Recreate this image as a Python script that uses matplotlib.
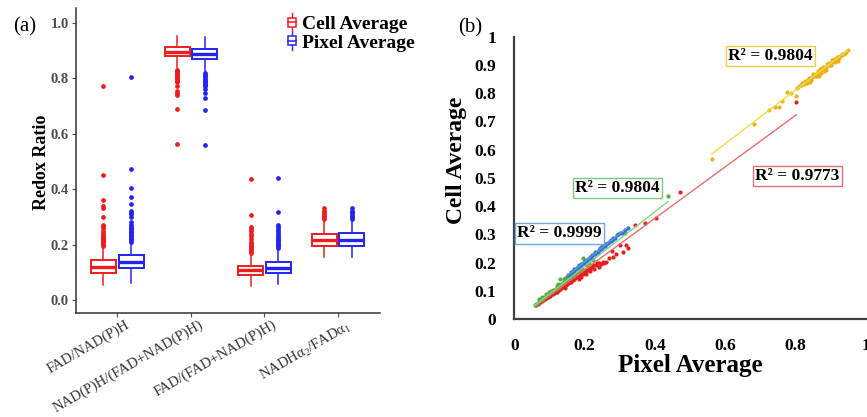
import matplotlib
matplotlib.use('Agg')
import matplotlib.pyplot as plt
import matplotlib.transforms as mtransforms
import numpy as np
from matplotlib.legend_handler import HandlerBase
from matplotlib.lines import Line2D
from matplotlib.patches import Rectangle

plt.rcParams['font.family'] = ['Liberation Serif', 'DejaVu Serif']
plt.rcParams['mathtext.default'] = 'regular'

# ---------------- panel (a): redox ratio box statistics ----------------
ratios = ['FAD/NAD(P)H', 'NAD(P)H/(FAD+NAD(P)H)', 'FAD/(FAD+NAD(P)H)', 'NADHα$_2$/FADα$_1$']

cell_whislo = [0.054, 0.835, 0.050, 0.154]
cell_q1 = [0.098, 0.880, 0.090, 0.196]
cell_med = [0.120, 0.895, 0.108, 0.216]
cell_q3 = [0.144, 0.913, 0.124, 0.237]
cell_whishi = [0.192, 0.952, 0.166, 0.286]
cell_fliers = [
    [0.196, 0.200, 0.204, 0.208, 0.212, 0.216, 0.220, 0.225, 0.230, 0.235, 0.240,
     0.250, 0.260, 0.265, 0.270, 0.300, 0.330, 0.340, 0.360, 0.450, 0.770],
    [0.830, 0.825, 0.820, 0.815, 0.810, 0.805, 0.800, 0.795, 0.790, 0.787, 0.772,
     0.755, 0.745, 0.739, 0.688, 0.564],
    [0.170, 0.175, 0.180, 0.185, 0.190, 0.195, 0.200, 0.205, 0.210, 0.220, 0.230,
     0.237, 0.248, 0.255, 0.262, 0.308, 0.436],
    [0.292, 0.298, 0.304, 0.310, 0.316, 0.322, 0.330],
]

pixel_whislo = [0.062, 0.823, 0.057, 0.154]
pixel_q1 = [0.117, 0.869, 0.098, 0.196]
pixel_med = [0.136, 0.887, 0.117, 0.216]
pixel_q3 = [0.162, 0.905, 0.136, 0.240]
pixel_whishi = [0.204, 0.947, 0.183, 0.286]
pixel_fliers = [
    [0.210, 0.215, 0.220, 0.225, 0.230, 0.235, 0.240, 0.245, 0.250, 0.255, 0.260,
     0.265, 0.270, 0.280, 0.300, 0.310, 0.315, 0.320, 0.345, 0.372, 0.403, 0.474, 0.803],
    [0.818, 0.812, 0.806, 0.800, 0.795, 0.790, 0.785, 0.780, 0.775, 0.770, 0.762,
     0.745, 0.727, 0.685, 0.560],
    [0.188, 0.193, 0.198, 0.203, 0.208, 0.213, 0.218, 0.223, 0.228, 0.233, 0.240,
     0.248, 0.255, 0.262, 0.270, 0.318, 0.440],
    [0.292, 0.298, 0.304, 0.310, 0.316, 0.322, 0.330],
]

series_a = ['Cell Average', 'Pixel Average']
yticks_a = [0.0, 0.2, 0.4, 0.6, 0.8, 1.0]
ytick_labels_a = ['0.0', '0.2', '0.4', '0.6', '0.8', '1.0']

# ---------------- panel (b): cell vs pixel averages ----------------
yellow_pixel = [0.561, 0.682, 0.724, 0.741, 0.753, 0.762, 0.774, 0.788, 0.802, 0.804,
                0.810, 0.815, 0.819, 0.823, 0.827, 0.831, 0.835, 0.839, 0.843, 0.847,
                0.851, 0.855, 0.859, 0.863, 0.867, 0.871, 0.875, 0.879, 0.883, 0.887,
                0.891, 0.895, 0.899, 0.903, 0.907, 0.911, 0.915, 0.919, 0.923, 0.927,
                0.931, 0.935, 0.939, 0.944,
                0.840, 0.850, 0.860, 0.870, 0.880, 0.890, 0.900, 0.910, 0.920,
                0.865, 0.875, 0.885, 0.895,
                0.826, 0.832, 0.838, 0.844, 0.852, 0.858, 0.864, 0.872, 0.878, 0.884,
                0.892, 0.898, 0.904, 0.912, 0.918, 0.924, 0.932, 0.938, 0.948]
yellow_cell = [0.566, 0.691, 0.740, 0.750, 0.750, 0.773, 0.805, 0.800, 0.790, 0.817,
               0.826, 0.828, 0.835, 0.834, 0.840, 0.842, 0.847, 0.849, 0.853, 0.857,
               0.860, 0.864, 0.868, 0.872, 0.875, 0.879, 0.883, 0.887, 0.890, 0.894,
               0.898, 0.901, 0.905, 0.909, 0.913, 0.916, 0.920, 0.924, 0.928, 0.931,
               0.935, 0.939, 0.942, 0.947,
               0.840, 0.868, 0.860, 0.885, 0.878, 0.902, 0.898, 0.922, 0.915,
               0.862, 0.890, 0.882, 0.908,
               0.842, 0.835, 0.853, 0.847, 0.866, 0.860, 0.878, 0.873, 0.891, 0.885,
               0.904, 0.898, 0.916, 0.911, 0.929, 0.923, 0.940, 0.938, 0.952]

red_pixel = [0.062, 0.066, 0.070, 0.074, 0.078, 0.082, 0.086, 0.090, 0.094, 0.098,
             0.102, 0.106, 0.110, 0.114, 0.118, 0.122, 0.126, 0.130, 0.134, 0.138,
             0.142, 0.146, 0.150, 0.154, 0.158, 0.162, 0.166, 0.170, 0.174, 0.178,
             0.182, 0.186, 0.190, 0.194, 0.198, 0.202, 0.206, 0.210, 0.215, 0.220,
             0.226, 0.232, 0.240, 0.247, 0.253, 0.262, 0.277, 0.300, 0.310, 0.319,
             0.322, 0.343, 0.371, 0.403, 0.471, 0.802,
             0.100, 0.120, 0.140, 0.160, 0.180, 0.200, 0.190, 0.170, 0.150, 0.130,
             0.160, 0.175, 0.185, 0.205, 0.215, 0.225, 0.235, 0.240, 0.255, 0.270,
             0.280, 0.290, 0.120, 0.135, 0.145, 0.095, 0.085]
red_cell = [0.050, 0.053, 0.056, 0.060, 0.063, 0.066, 0.070, 0.073, 0.077, 0.080,
            0.083, 0.087, 0.090, 0.093, 0.097, 0.100, 0.104, 0.107, 0.110, 0.114,
            0.117, 0.120, 0.124, 0.127, 0.131, 0.134, 0.137, 0.141, 0.144, 0.148,
            0.151, 0.154, 0.158, 0.161, 0.165, 0.168, 0.172, 0.175, 0.180, 0.184,
            0.178, 0.193, 0.200, 0.196, 0.203, 0.203, 0.242, 0.262, 0.238, 0.262,
            0.250, 0.333, 0.339, 0.357, 0.449, 0.770,
            0.090, 0.108, 0.122, 0.140, 0.158, 0.175, 0.150, 0.148, 0.135, 0.112,
            0.130, 0.160, 0.140, 0.160, 0.170, 0.190, 0.200, 0.185, 0.200, 0.215,
            0.220, 0.230, 0.095, 0.120, 0.110, 0.078, 0.075]

green_pixel = [0.058, 0.062, 0.066, 0.070, 0.074, 0.078, 0.082, 0.086, 0.090, 0.094,
               0.098, 0.102, 0.106, 0.110, 0.114, 0.118, 0.122, 0.126, 0.130, 0.134,
               0.138, 0.142, 0.146, 0.150, 0.154, 0.158, 0.162, 0.166, 0.170, 0.175,
               0.180, 0.186, 0.192, 0.196, 0.203, 0.212, 0.225, 0.314, 0.437,
               0.080, 0.100, 0.120, 0.140, 0.130, 0.160, 0.110,
               0.090, 0.105, 0.125, 0.145, 0.165, 0.180, 0.070, 0.150]
green_cell = [0.050, 0.054, 0.058, 0.062, 0.066, 0.069, 0.073, 0.077, 0.081, 0.085,
              0.088, 0.092, 0.096, 0.100, 0.104, 0.107, 0.111, 0.115, 0.119, 0.123,
              0.126, 0.130, 0.134, 0.138, 0.142, 0.145, 0.149, 0.153, 0.157, 0.162,
              0.167, 0.172, 0.178, 0.215, 0.190, 0.198, 0.210, 0.303, 0.434,
              0.078, 0.097, 0.118, 0.140, 0.141, 0.152, 0.103,
              0.090, 0.100, 0.125, 0.145, 0.160, 0.180, 0.070, 0.150]

blue_pixel = [0.153, 0.158, 0.161, 0.166, 0.169, 0.174, 0.177, 0.181, 0.186, 0.189,
              0.194, 0.197, 0.201, 0.206, 0.209, 0.214, 0.217, 0.221, 0.226, 0.229,
              0.234, 0.237, 0.241, 0.246, 0.249, 0.254, 0.257, 0.261, 0.266, 0.269,
              0.274, 0.277, 0.281, 0.285, 0.291, 0.300, 0.314, 0.324,
              0.170, 0.185, 0.200, 0.215, 0.230, 0.245, 0.260, 0.275,
              0.160, 0.190, 0.220, 0.250, 0.280, 0.295, 0.305]
blue_cell = [0.155, 0.161, 0.163, 0.169, 0.171, 0.177, 0.179, 0.184, 0.189, 0.191,
             0.197, 0.199, 0.204, 0.209, 0.211, 0.217, 0.219, 0.224, 0.229, 0.231,
             0.237, 0.239, 0.244, 0.249, 0.251, 0.257, 0.259, 0.264, 0.269, 0.271,
             0.277, 0.279, 0.284, 0.287, 0.298, 0.304, 0.315, 0.321,
             0.176, 0.191, 0.206, 0.221, 0.236, 0.251, 0.266, 0.281,
             0.165, 0.196, 0.227, 0.257, 0.286, 0.302, 0.306]

# linear trend lines (slope, intercept) and their R² labels
fit_slope = [0.950, 0.912, 0.971, 1.000]
fit_intercept = [0.051, -0.008, -0.008, 0.003]
r2_text = ['R² = 0.9804', 'R² = 0.9773', 'R² = 0.9804', 'R² = 0.9999']
r2_pos = [(0.7285, 0.932), (0.8047, 0.508), (0.2934, 0.463), (0.129, 0.303)]

xticks_b = [0, 0.2, 0.4, 0.6, 0.8, 1.0]
xtick_labels_b = ['0', '0.2', '0.4', '0.6', '0.8', '1']
yticks_b = [0, 0.1, 0.2, 0.3, 0.4, 0.5, 0.6, 0.7, 0.8, 0.9, 1.0]
ytick_labels_b = ['0', '0.1', '0.2', '0.3', '0.4', '0.5', '0.6', '0.7', '0.8', '0.9', '1']

# ---------------- styling ----------------
RED = '#EE1C1C'
BLUE = '#2424F2'
pt_colors = ['#E8B21A', '#E51E1E', '#4FAE3C', '#3C72CF']
line_colors = ['#F2DA4A', '#E86E6E', '#86D486', '#5B9BD5']
box_colors = ['#F0D040', '#E07070', '#7CC87C', '#6FA8DC']

fig = plt.figure(figsize=(8.67, 4.17), dpi=100)

# ======== panel (a) ========
ax1 = fig.add_axes([76 / 867, 1 - 313 / 417, 304 / 867, 305 / 417])
pos = np.arange(1, len(ratios) + 1)
offset = 0.1875
bw = 0.34


def make_stats(lo, q1, med, q3, hi, fl):
    return [dict(whislo=lo[i], q1=q1[i], med=med[i], q3=q3[i], whishi=hi[i],
                 fliers=fl[i]) for i in range(len(lo))]


for stats, shift, col in [
    (make_stats(cell_whislo, cell_q1, cell_med, cell_q3, cell_whishi, cell_fliers), -offset, RED),
    (make_stats(pixel_whislo, pixel_q1, pixel_med, pixel_q3, pixel_whishi, pixel_fliers), offset, BLUE),
]:
    ax1.bxp(stats, positions=pos + shift, widths=bw, patch_artist=True,
            showcaps=False, manage_ticks=False,
            boxprops=dict(facecolor='white', edgecolor=col, linewidth=1.4),
            medianprops=dict(color=col, linewidth=2.4),
            whiskerprops=dict(color=col, linewidth=1.1),
            flierprops=dict(marker='o', markersize=2.4, markerfacecolor=col,
                            markeredgecolor=col, linestyle='none'))

ax1.set_xlim(0.44, 4.57)
ax1.set_ylim(-0.047, 1.053)
ax1.set_yticks(yticks_a)
ax1.set_yticklabels(ytick_labels_a, fontsize=10.5, fontweight='bold', color='#4D4D4D')
ax1.set_xticks(pos)
ax1.set_xticklabels([])
ax1.tick_params(axis='both', length=3, width=0.8, color='#4D4D4D', pad=2)
for s in ['top', 'right']:
    ax1.spines[s].set_visible(False)
for s in ['left', 'bottom']:
    ax1.spines[s].set_color('#333333')
    ax1.spines[s].set_linewidth(1.1)

lab_trans = mtransforms.blended_transform_factory(ax1.transData, ax1.transAxes) + \
    mtransforms.ScaledTranslation(8 / 100, -5 / 100, fig.dpi_scale_trans)
for p, lab in zip(pos, ratios):
    ax1.text(p, 0, lab, transform=lab_trans, rotation=30, ha='right', va='top',
             rotation_mode='anchor', fontsize=10.5, color='#333333')

ax1.text(-0.113, 0.493, 'Redox Ratio', transform=ax1.transAxes, rotation=90,
         ha='center', va='center', fontsize=13, fontweight='bold')
fig.text(25 / 867, 1 - 27 / 417, '(a)', ha='center', va='center', fontsize=15)


class BoxGlyph(HandlerBase):
    def create_artists(self, legend, orig_handle, xdescent, ydescent, width, height,
                       fontsize, trans):
        col = orig_handle.get_color()
        cx = width / 2 - xdescent
        cy = height / 2 - ydescent
        w = width * 0.9
        h = height * 0.55
        whisk = Line2D([cx, cx], [cy - height * 0.55, cy + height * 0.55], color=col,
                       lw=1.0, transform=trans)
        rect = Rectangle((cx - w / 2, cy - h / 2), w, h, facecolor='white', edgecolor=col,
                         lw=1.1, transform=trans)
        med = Line2D([cx - w / 2, cx + w / 2], [cy, cy], color=col, lw=1.1, transform=trans)
        return [whisk, rect, med]


handles = [Line2D([], [], color=RED), Line2D([], [], color=BLUE)]
ax1.legend(handles, series_a, handler_map={Line2D: BoxGlyph()}, loc='upper left',
           bbox_to_anchor=(288 / 867, 1 - 14 / 417), bbox_transform=fig.transFigure,
           frameon=False, borderpad=0, handlelength=0.42, handleheight=0.9,
           handletextpad=0.3, labelspacing=0.0, borderaxespad=0,
           prop=dict(size=14, weight='bold'))

# ======== panel (b) ========
ax2 = fig.add_axes([514.3 / 867, 1 - 319 / 417, 351.7 / 867, 282.3 / 417])
groups = [(yellow_pixel, yellow_cell), (red_pixel, red_cell),
          (green_pixel, green_cell), (blue_pixel, blue_cell)]
for i, (px, ce) in enumerate(groups):
    ax2.scatter(px, ce, s=9, color=pt_colors[i], linewidths=0, zorder=3 + i)
for i, (px, ce) in enumerate(groups):
    xs = np.array([min(px), max(px)])
    ax2.plot(xs, fit_slope[i] * xs + fit_intercept[i], color=line_colors[i], lw=1.0,
             zorder=8)
    ax2.text(r2_pos[i][0], r2_pos[i][1], r2_text[i], ha='center', va='center',
             fontsize=12.5, fontweight='bold', zorder=10,
             bbox=dict(boxstyle='square,pad=0.12', facecolor='white',
                       edgecolor=box_colors[i], linewidth=1.0))

ax2.set_xlim(0, 1)
ax2.set_ylim(0, 1)
ax2.set_xticks(xticks_b)
ax2.set_xticklabels(xtick_labels_b, fontsize=12.5, fontweight='bold')
ax2.set_yticks(yticks_b)
ax2.set_yticklabels(ytick_labels_b, fontsize=12.5, fontweight='bold')
ax2.tick_params(axis='both', length=0)
ax2.tick_params(axis='x', pad=14)
ax2.tick_params(axis='y', pad=13)
for s in ['top', 'right']:
    ax2.spines[s].set_visible(False)
for s in ['left', 'bottom']:
    ax2.spines[s].set_color('#404040')
    ax2.spines[s].set_linewidth(1.6)

ax2.text(0.5, -0.163, 'Pixel Average', transform=ax2.transAxes, ha='center',
         va='center', fontsize=18, fontweight='bold')
ax2.text(-0.164, 0.563, 'Cell Average', transform=ax2.transAxes, rotation=90,
         ha='center', va='center', fontsize=17, fontweight='bold')
fig.text(470 / 867, 1 - 28 / 417, '(b)', ha='center', va='center', fontsize=15)

fig.savefig('out.png', dpi=100)
